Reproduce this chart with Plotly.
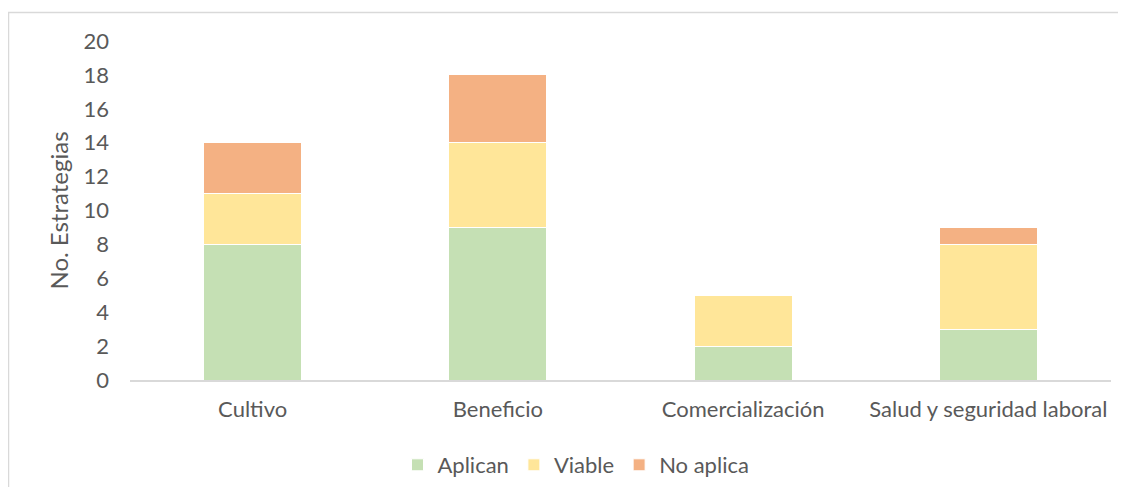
import plotly.graph_objects as go

categories = ["Cultivo", "Beneficio", "Comercialización", "Salud y seguridad laboral"]
aplican = [8, 9, 2, 3]
viable = [3, 5, 3, 5]
no_aplica = [3, 4, 0, 1]
y_ticks = [0, 2, 4, 6, 8, 10, 12, 14, 16, 18, 20]

series = [
    ("Aplican", aplican, "#C5E0B4"),
    ("Viable", viable, "#FFE699"),
    ("No aplica", no_aplica, "#F4B183"),
]

fig = go.Figure()
for name, vals, color in series:
    fig.add_trace(go.Bar(
        x=categories, y=vals, name=name,
        marker=dict(color=color, line=dict(color="white", width=1)),
        width=0.4,
    ))

OFF = 8  # page body margin
W, H = 1126 - 2 * OFF, 495 - 2 * OFF
L, T = 130 - OFF, 41 - OFF
R = W - (1111 - OFF)
B = H - (380 - OFF)
pw = W - L - R
ph = H - T - B

def px_x(px):
    return (px - OFF - L) / pw

def px_y(py):
    return (H - B - (py - OFF)) / ph

FONT = "Lato, Carlito, Calibri, sans-serif"
fig.update_layout(
    width=W, height=H,
    barmode="stack",
    plot_bgcolor="white", paper_bgcolor="white",
    margin=dict(l=L, r=R, t=T, b=B, pad=0, autoexpand=False),
    font=dict(family=FONT, size=22, color="#595959"),
    showlegend=True,
    legend=dict(orientation="h", xref="container", yref="container",
                x=(576 - OFF) / W, xanchor="center",
                y=1 - (444 - OFF) / H, yanchor="top",
                font=dict(size=22, color="#595959"),
                traceorder="normal", itemwidth=30),
    xaxis=dict(showline=True, linecolor="#D9D9D9", linewidth=1.5,
               showgrid=False, ticks="", tickfont=dict(size=22),
               ticklabelstandoff=9),
    yaxis=dict(range=[0, 20], tickvals=y_ticks, showgrid=False,
               showline=False, zeroline=False, ticks="",
               ticklabelstandoff=20, tickfont=dict(size=22),
               title=dict(text="No. Estrategias", font=dict(size=24),
                          standoff=8)),
    shapes=[dict(type="rect", xref="paper", yref="paper",
                 x0=px_x(8.5), x1=px_x(1140), y0=px_y(12.5), y1=px_y(510),
                 line=dict(color="#D9D9D9", width=1.5), fillcolor="rgba(0,0,0,0)",
                 layer="below")],
)

fig.write_html("out.html")
